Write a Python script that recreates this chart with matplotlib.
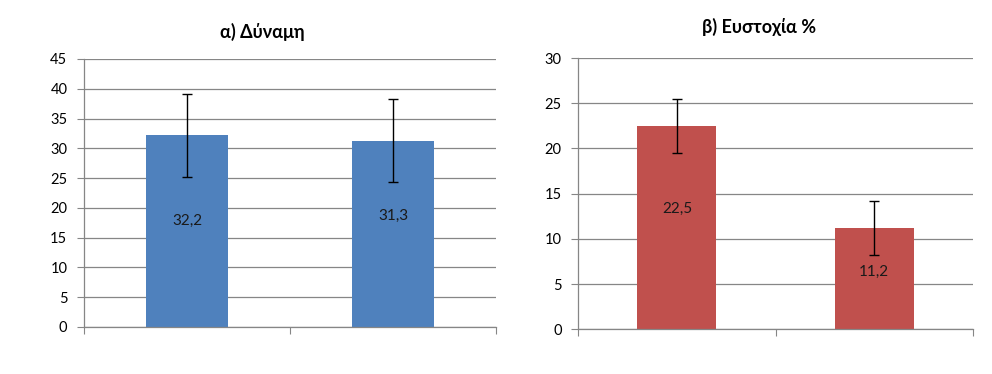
import matplotlib.pyplot as plt
import numpy as np

# data
strength_means = [32.2, 31.3]
strength_sd = [7.0, 7.0]
strength_labels = ["32,2", "31,3"]
strength_label_y = [17.8, 18.6]

accuracy_means = [22.5, 11.2]
accuracy_sd = [3.0, 3.0]
accuracy_labels = ["22,5", "11,2"]
accuracy_label_y = [13.3, 6.3]

BLUE = "#4F81BD"
RED = "#C0504D"
GRID = "#868686"

plt.rcParams['font.family'] = ['Lato', 'DejaVu Sans']

fig = plt.figure(figsize=(9.92, 3.74), dpi=100)
fig.patch.set_facecolor("white")


def draw_panel(ax, means, sd, labels, label_y, color, ymax, step):
    x = np.arange(len(means))
    ax.bar(x, means, width=0.4, color=color, zorder=2)
    ax.errorbar(x, means, yerr=sd, fmt="none", ecolor="black",
                elinewidth=1, capsize=3.5, capthick=1, zorder=3)
    for xi, yi, txt in zip(x, label_y, labels):
        ax.text(xi, yi, txt, ha="center", va="center", fontsize=11, color="#1a1a1a", zorder=4)

    ax.set_xlim(-0.5, len(means) - 0.5)
    ax.set_ylim(0, ymax)
    ax.set_yticks(np.arange(0, ymax + 0.1, step))
    ax.yaxis.grid(True, color=GRID, linewidth=0.9, zorder=0)
    ax.set_axisbelow(True)

    # category boundaries as x ticks
    ax.set_xticks(np.arange(-0.5, len(means), 1.0))
    ax.set_xticklabels([])
    ax.tick_params(axis="x", length=5, color=GRID, direction="out")
    ax.tick_params(axis="y", length=5, color=GRID, direction="out", pad=7, labelsize=10.5)

    for side in ["top", "right"]:
        ax.spines[side].set_visible(False)
    for side in ["left", "bottom"]:
        ax.spines[side].set_color(GRID)
        ax.spines[side].set_linewidth(0.9)


ax1 = fig.add_axes([0.0847, 0.1257, 0.4153, 0.7166])
draw_panel(ax1, strength_means, strength_sd, strength_labels, strength_label_y, BLUE, 45, 5)

ax2 = fig.add_axes([0.583, 0.1195, 0.3976, 0.7254])
draw_panel(ax2, accuracy_means, accuracy_sd, accuracy_labels, accuracy_label_y, RED, 30, 5)

fig.text(262 / 992, 1 - 32 / 374, "α) Δύναμη", ha="center", va="center",
         fontsize=13, fontweight="bold")
fig.text(759 / 992, 1 - 27 / 374, "β) Ευστοχία %", ha="center", va="center",
         fontsize=13, fontweight="bold")

fig.savefig("out.png", dpi=100, facecolor="white")
